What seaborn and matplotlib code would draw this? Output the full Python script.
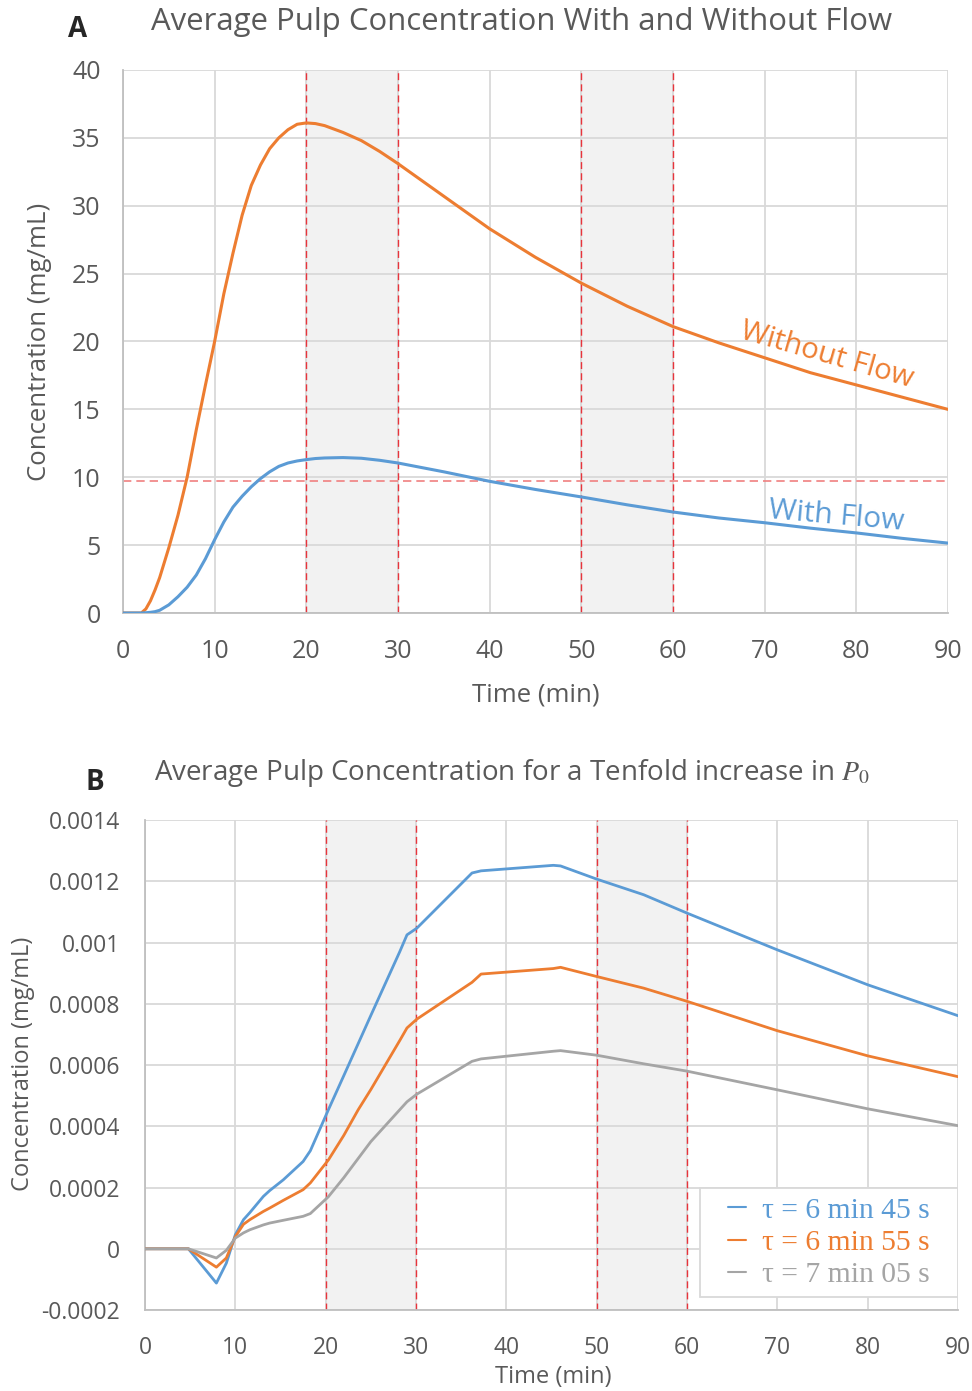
import pandas as pd
import matplotlib.pyplot as plt
import seaborn as sns
from matplotlib.patches import Rectangle

# Panel A data
t_a = [0, 2, 2.5, 3, 3.5, 4, 5, 6, 7, 8, 9, 10, 11, 12, 13, 14, 15, 16, 17, 18, 19, 20,
       21, 22, 24, 26, 28, 30, 35, 40, 45, 50, 55, 60, 65, 70, 75, 80, 85, 90]
without_flow = [0, 0, 0.3, 0.9, 1.7, 2.6, 4.8, 7.2, 10.0, 13.5, 16.8, 20.0, 23.5, 26.5, 29.3, 31.5,
                33.0, 34.2, 35.0, 35.6, 36.0, 36.1, 36.05, 35.9, 35.4, 34.8, 34.0, 33.1, 30.7, 28.3,
                26.2, 24.3, 22.6, 21.1, 19.9, 18.8, 17.7, 16.8, 15.9, 15.0]
with_flow = [0, 0, 0.02, 0.05, 0.1, 0.2, 0.6, 1.2, 1.9, 2.8, 4.0, 5.4, 6.7, 7.8, 8.6, 9.3,
             9.9, 10.4, 10.8, 11.05, 11.2, 11.3, 11.38, 11.42, 11.45, 11.4, 11.25, 11.05, 10.4, 9.7,
             9.1, 8.55, 7.97, 7.44, 7.0, 6.65, 6.25, 5.9, 5.5, 5.15]
threshold_a = 9.75

# Panel B data
t_b = [0, 4.8, 7.9, 9.0, 10.0, 10.9, 11.6, 13.1, 13.8, 15.3, 17.5, 18.3, 20.3, 22, 23.6,
       25, 28.2, 29.0, 30.1, 36.2, 37.2, 45.2, 46.0, 50, 55.2, 60, 70, 80, 90]
tau_645 = [0, 0, -0.000112, -0.000047, 0.000046, 0.000095, 0.000118, 0.000171, 0.000190, 0.000225,
           0.000285, 0.00032, 0.000454, 0.000565, 0.00067, 0.000762, 0.00097, 0.001025, 0.001047,
           0.001227, 0.001234, 0.001252, 0.00125, 0.001207, 0.001156, 0.001096, 0.000976, 0.000862, 0.000761]
tau_655 = [0, 0, -0.00006, -0.00003, 0.00004, 0.00008, 0.000095, 0.000122, 0.000133, 0.000158,
           0.000193, 0.000215, 0.00029, 0.00037, 0.000454, 0.00052, 0.00068, 0.000721, 0.00075,
           0.00087, 0.000897, 0.000915, 0.000919, 0.000889, 0.000851, 0.000808, 0.000712, 0.00063, 0.000562]
tau_705 = [0, 0, -0.00003, -0.000005, 0.000035, 0.000052, 0.000062, 0.000078, 0.000084, 0.000093,
           0.000106, 0.000115, 0.00017, 0.000232, 0.000295, 0.00035, 0.000454, 0.00048, 0.000505,
           0.000612, 0.00062, 0.000645, 0.000647, 0.000632, 0.000604, 0.00058, 0.000519, 0.000457, 0.000402]
tau_labels = ["τ = 6 min 45 s", "τ = 6 min 55 s", "τ = 7 min 05 s"]

blue = "#5B9BD5"
orange = "#ED7D31"
gray = "#A5A5A5"
txt = "#595959"
grid = "#D9D9D9"

df_a = pd.DataFrame({"t": t_a * 2,
                     "c": without_flow + with_flow,
                     "case": ["Without Flow"] * len(t_a) + ["With Flow"] * len(t_a)})
df_b = pd.DataFrame({"t": t_b * 3,
                     "c": tau_645 + tau_655 + tau_705,
                     "case": [tau_labels[0]] * len(t_b) + [tau_labels[1]] * len(t_b) + [tau_labels[2]] * len(t_b)})

sns.set_style("white")
plt.rcParams["font.family"] = ["Open Sans", "DejaVu Sans"]
plt.rcParams["mathtext.fontset"] = "stix"

fig = plt.figure(figsize=(9.72, 13.91), dpi=100)
ax1 = fig.add_axes([0.1265, 0.5593, 0.8488, 0.3904])
ax2 = fig.add_axes([0.1492, 0.0582, 0.8364, 0.3523])


def style(ax, fs, xpad, ypad):
    ax.grid(True, color=grid, lw=1.3)
    ax.set_axisbelow(True)
    for s in ["top", "right"]:
        ax.spines[s].set_visible(False)
    for s in ["left", "bottom"]:
        ax.spines[s].set_color("#BFBFBF")
        ax.spines[s].set_linewidth(1.3)
    ax.tick_params(axis="both", length=0, labelsize=fs, colors=txt)
    ax.tick_params(axis="x", pad=xpad)
    ax.tick_params(axis="y", pad=ypad)


# <editor-fold desc="Panel A">
for lo, hi in [(20, 30), (50, 60)]:
    ax1.axvspan(lo, hi, color="#F2F2F2", zorder=0.5, lw=0)
    ax1.axvline(lo, color="#E8343C", ls=(0, (5, 3)), lw=1, zorder=1)
    ax1.axvline(hi, color="#E8343C", ls=(0, (5, 3)), lw=1, zorder=1)
ax1.axhline(threshold_a, color="#F08080", ls=(0, (5, 3)), lw=1.2, zorder=1)

sns.lineplot(data=df_a, x="t", y="c", hue="case", palette=[orange, blue],
             lw=2.2, legend=False, ax=ax1, zorder=3)
ax1.set_xlim(0, 90)
ax1.set_ylim(0, 40)
ax1.set_xticks(range(0, 91, 10))
ax1.set_yticks(range(0, 41, 5))
style(ax1, 18, 19, 16)
ax1.set_xlabel("Time (min)", fontsize=18.5, color=txt)
ax1.set_ylabel("Concentration (mg/mL)", fontsize=18.5, color=txt)
ax1.xaxis.set_label_coords(0.5, -0.128)
ax1.yaxis.set_label_coords(-0.086, 0.5)
ax1.text(76.8, 19.0, "Without Flow", color=orange, fontsize=21, rotation=-16,
         ha="center", va="center")
ax1.text(77.8, 7.1, "With Flow", color=blue, fontsize=21.5, rotation=-5,
         ha="center", va="center")
fig.text(0.5365, 0.984, "Average Pulp Concentration With and Without Flow",
         fontsize=22.4, color=txt, ha="center", va="center")
fig.text(0.080, 0.979, "A", fontsize=20, fontweight="bold", ha="center", va="center")
# </editor-fold>

# <editor-fold desc="Panel B">
for lo, hi in [(20, 30), (50, 60)]:
    ax2.axvspan(lo, hi, color="#F2F2F2", zorder=0.5, lw=0)
    ax2.axvline(lo, color="#E8343C", ls=(0, (5, 3)), lw=1, zorder=1)
    ax2.axvline(hi, color="#E8343C", ls=(0, (5, 3)), lw=1, zorder=1)

sns.lineplot(data=df_b, x="t", y="c", hue="case", palette=[blue, orange, gray],
             lw=2.0, ax=ax2, zorder=3)
ax2.set_xlim(0, 90)
ax2.set_ylim(-0.0002, 0.0014)
ax2.set_xticks(range(0, 91, 10))
yt = [-0.0002, 0, 0.0002, 0.0004, 0.0006, 0.0008, 0.001, 0.0012, 0.0014]
ax2.set_yticks(yt)
ax2.set_yticklabels(["-0.0002", "0", "0.0002", "0.0004", "0.0006", "0.0008",
                     "0.001", "0.0012", "0.0014"])
style(ax2, 16.5, 19, 18)
ax2.set_xlabel("Time (min)", fontsize=17, color=txt)
ax2.set_ylabel("Concentration (mg/mL)", fontsize=17, color=txt)
ax2.xaxis.set_label_coords(0.502, -0.113)
ax2.yaxis.set_label_coords(-0.135, 0.503)

# legend box drawn separately so padding matches the reference
ax2.add_patch(Rectangle((0.6827, 0.0265), 0.3173, 0.2225, transform=ax2.transAxes,
                        facecolor="white", edgecolor="#D9D9D9", lw=1.3, zorder=4))
leg = ax2.legend(loc="center", bbox_to_anchor=(0.841, 0.1378), borderaxespad=0,
                 frameon=False, handlelength=0.6, handletextpad=0.55,
                 labelcolor="linecolor", borderpad=0, labelspacing=0.18,
                 prop={"family": ["Liberation Serif", "DejaVu Serif"], "size": 21.3})
leg.set_zorder(5)
for h in leg.get_lines():
    h.set_linewidth(1.5)
fig.text(0.5267, 0.4443, "Average Pulp Concentration for a Tenfold increase in $P_0$",
         fontsize=20, color=txt, ha="center", va="center")
fig.text(0.098, 0.4375, "B", fontsize=20, fontweight="bold", ha="center", va="center")
# </editor-fold>

plt.savefig("out.png", dpi=100)
